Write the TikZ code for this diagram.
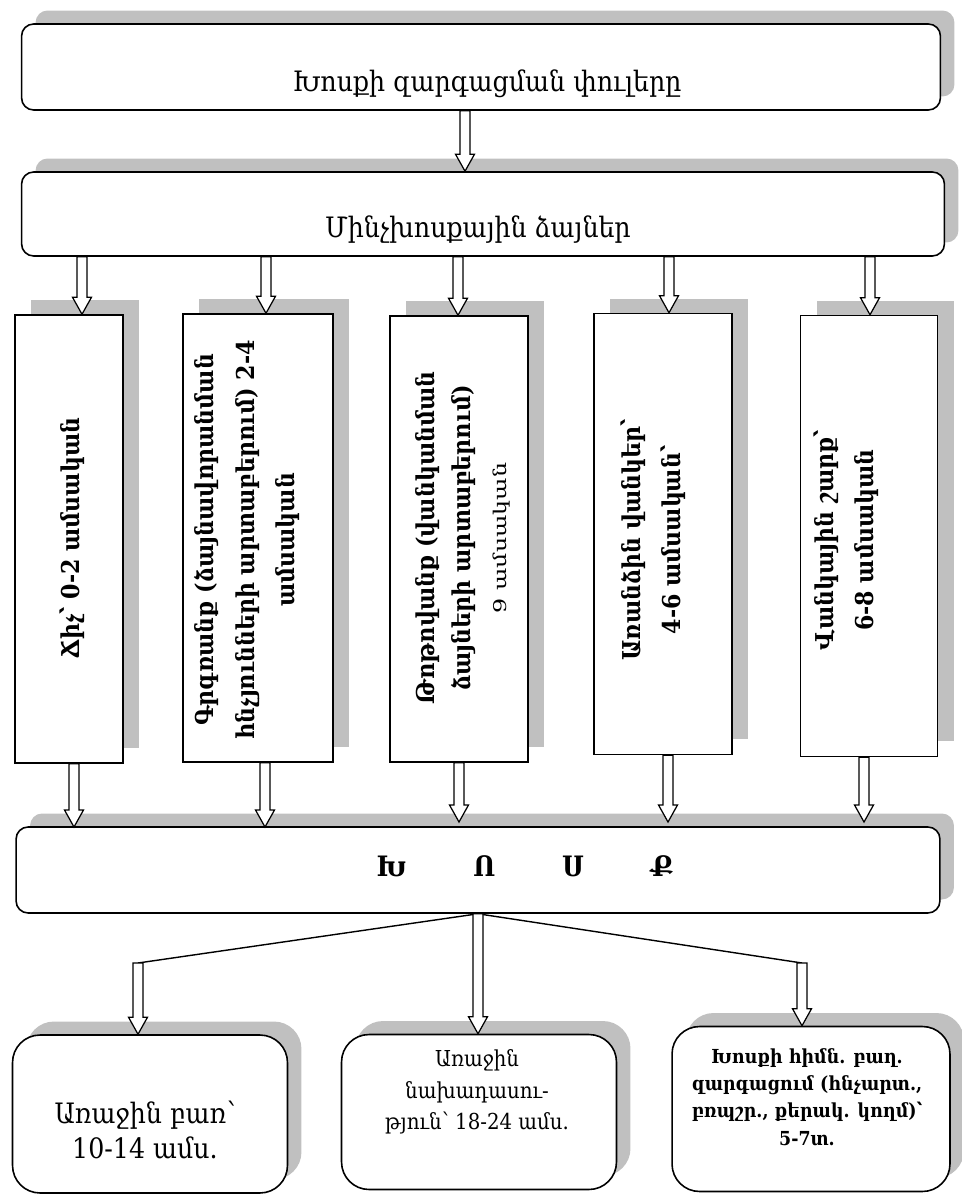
\documentclass[tikz,border=0pt]{standalone}
\usepackage{fontspec}
\setmainfont{DejaVu Serif}[FakeStretch=0.9]
\newfontfamily\widefont[FakeStretch=1.35]{DejaVu Serif}
\usetikzlibrary{calc,shadows}
\definecolor{shadowgray}{HTML}{C0C0C0}

% hollow block arrow pointing down, from #1 to the height of #2
\newcommand{\hollowarrow}[2]{%
  \draw[hollow] let \p1=(#1), \p2=(#2) in
    (\x1-0.1cm,\y1) -- (\x1-0.1cm,\y2+0.34cm) -- (\x1-0.19cm,\y2+0.34cm)
    -- (\x1,\y2) -- (\x1+0.19cm,\y2+0.34cm) -- (\x1+0.1cm,\y2+0.34cm)
    -- (\x1+0.1cm,\y1) -- cycle;}

\begin{document}
\begin{tikzpicture}
        [x=0.02cm, y=-0.02cm,
        roundbox/.style={draw, line width=0.9pt, rounded corners=0.24cm, fill=white,
          drop shadow={shadow xshift=0.28cm, shadow yshift=0.27cm, fill=shadowgray, opacity=1}},
        bigbox/.style={roundbox, rounded corners=0.55cm},
        colbox/.style={draw, line width=0.9pt, fill=white,
          drop shadow={shadow xshift=0.32cm, shadow yshift=0.3cm, fill=shadowgray, opacity=1}},
        titletext/.style={font=\fontsize{16}{19}\selectfont},
        coltext/.style={rotate=90, align=center, font=\bfseries\fontsize{14}{23}\selectfont},
        hollow/.style={draw, line width=0.7pt, fill=white}]
        \useasboundingbox (0,0) rectangle (961,1195);

        \node[roundbox, minimum width=18.38cm, minimum height=1.72cm] (stages) at (481,67) {};
        \node[titletext] (stagesT) at (487,84) {Խոսքի զարգացման փուլերը};
        \node[roundbox, minimum width=18.46cm, minimum height=1.68cm] (prespeech) at (483,214) {};
        \node[titletext] (prespeechT) at (478,230) {Մինչխոսքային ձայներ};

        \node[colbox, minimum width=2.16cm, minimum height=8.96cm] (cry) at (69,539) {};
        \node[colbox, minimum width=3.0cm, minimum height=8.96cm] (coo) at (258,538) {};
        \node[colbox, minimum width=2.76cm, minimum height=8.92cm] (babble) at (459,539) {};
        \node[colbox, minimum width=2.76cm, minimum height=8.82cm] (syllables) at (663,534) {};
        \node[colbox, minimum width=2.74cm, minimum height=8.82cm] (chain) at (869,536) {};

        \node[coltext] (cryT) at (72,538) {Ճիչ՝ 0-2 ամսական};
        \node[coltext] (cooT) at (247,540) {Գրգռանք (ձայնավորանման\\հնչյունների արտաբերում) 2-4\\ամսական};
        \node[coltext, font=\bfseries\fontsize{14}{20.5}\selectfont] (babbleT) at (463,538)
          {Թոթովանք (վանկանման\\ձայների արտաբերում)\\{\widefont\mdseries\fontsize{10}{12}\selectfont 9 ամսական}};
        \node[coltext] (syllablesT) at (653,540) {Առանձին վանկեր՝\\4-6 ամսական՝};
        \node[coltext] (chainT) at (846,540) {Վանկային շարք՝\\6-8 ամսական};

        \node[roundbox, minimum width=18.48cm, minimum height=1.72cm] (speech) at (478,870) {};
        \node[font=\bfseries\fontsize{16}{18}\selectfont] (speechT) at (525,866) {Խ\hspace{38pt}Ո\hspace{38pt}Ս\hspace{38pt}Ք};

        \node[bigbox, minimum width=5.5cm, minimum height=3.16cm] (firstword) at (150,1114) {};
        \node[font=\fontsize{16}{20}\selectfont, align=center] (firstwordT) at (145,1130) {Առաջին բառ՝\\10-14 ամս.};
        \node[bigbox, minimum width=5.5cm, minimum height=3.1cm] (firstsent) at (479,1112) {};
        \node[font=\fontsize{12.5}{18}\selectfont, align=center] (firstsentT) at (477,1092) {Առաջին\\նախադասու-\\թյուն՝ 18-24 ամս.};
        \node[bigbox, minimum width=5.56cm, minimum height=3.3cm] (basics) at (811,1109) {};
        \node[font=\bfseries\fontsize{11}{15.5}\selectfont, align=center] (basicsT) at (807,1097)
          {Խոսքի հիմն. բաղ.\\զարգացում (հնչարտ.,\\բռպշր., քերակ. կողմ)՝\\5-7տ.};

        \coordinate (top) at (465,0);
        \coordinate (in1) at (82,0);
        \coordinate (in2) at (266,0);
        \coordinate (in3) at (458,0);
        \coordinate (in4) at (669,0);
        \coordinate (in5) at (870,0);
        \coordinate (out1) at (74,827);
        \coordinate (out2) at (265,827);
        \coordinate (out3) at (459,822);
        \coordinate (out4) at (668,822);
        \coordinate (out5) at (864,822);
        \coordinate (splitL) at (138,963);
        \coordinate (splitR) at (802,963);

        \hollowarrow{stages.south -| top}{prespeech.north}
        \hollowarrow{prespeech.south -| in1}{cry.north}
        \hollowarrow{prespeech.south -| in2}{coo.north}
        \hollowarrow{prespeech.south -| in3}{babble.north}
        \hollowarrow{prespeech.south -| in4}{syllables.north}
        \hollowarrow{prespeech.south -| in5}{chain.north}
        \hollowarrow{cry.south -| out1}{out1}
        \hollowarrow{coo.south -| out2}{out2}
        \hollowarrow{babble.south -| out3}{out3}
        \hollowarrow{syllables.south -| out4}{out4}
        \hollowarrow{chain.south -| out5}{out5}

        \draw[line width=0.8pt] (speech.south) -- (splitL);
        \draw[line width=0.8pt] (speech.south) -- (splitR);
        \hollowarrow{splitL}{firstword.north}
        \hollowarrow{speech.south}{firstsent.north}
        \hollowarrow{splitR}{basics.north}
    \end{tikzpicture}
\end{document}
